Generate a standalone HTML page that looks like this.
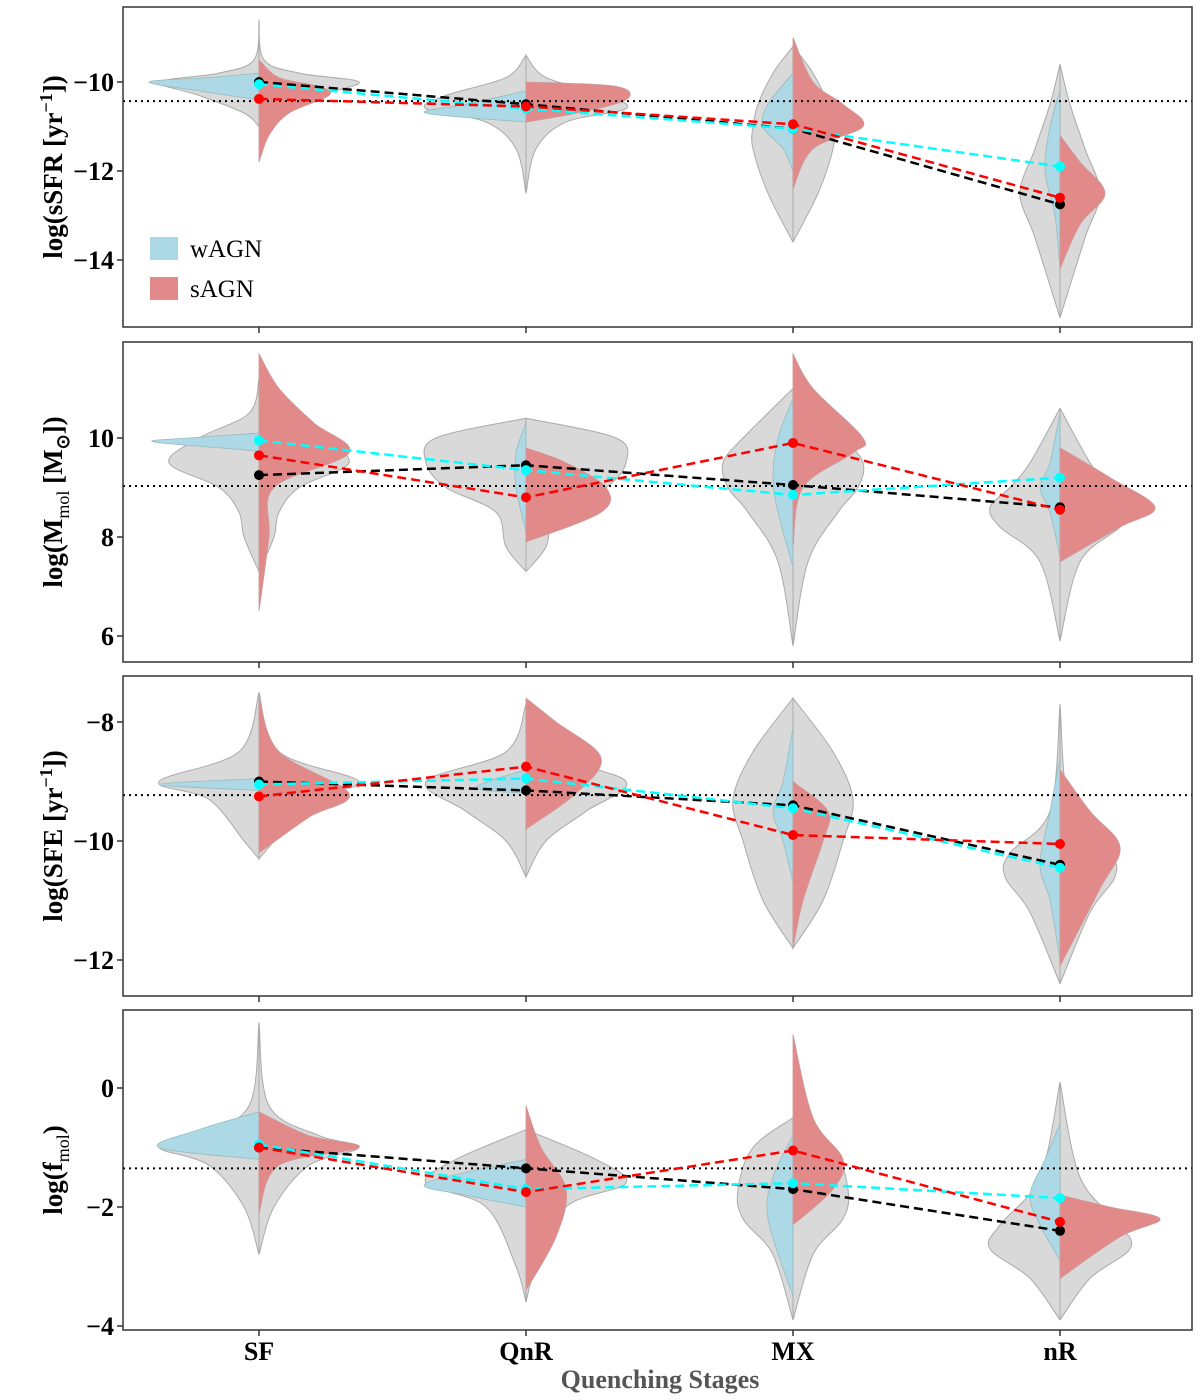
<!DOCTYPE html>
<html><head><meta charset="utf-8">
<style>
html,body{margin:0;padding:0;background:#fff;}
svg{display:block;font-family:"Liberation Serif",serif;}
</style></head>
<body>
<svg id="chart" width="1200" height="1400" viewBox="0 0 1200 1400" xmlns="http://www.w3.org/2000/svg"></svg>
<script>
const categories = ["SF","QnR","MX","nR"];
const panelNames = ["ssfr","mmol","sfe","fmol"];
// reference (dotted) lines
const refLines = [-10.43, 9.03, -9.23, -1.35];
// tick values
const ticks0 = [-10,-12,-14];
const ticks1 = [10,8,6];
const ticks2 = [-8,-10,-12];
const ticks3 = [0,-2,-4];
const tickLabels0 = ["\u221210","\u221212","\u221214"];
const tickLabels1 = ["10","8","6"];
const tickLabels2 = ["\u22128","\u221210","\u221212"];
const tickLabels3 = ["0","\u22122","\u22124"];
// medians per panel: [SF,QnR,MX,nR]
const allMed0 = [-10.0,-10.5,-11.05,-12.75];
const wMed0 = [-10.05,-10.6,-11.05,-11.9];
const sMed0 = [-10.38,-10.55,-10.95,-12.6];
const allMed1 = [9.25,9.45,9.05,8.6];
const wMed1 = [9.95,9.35,8.85,9.2];
const sMed1 = [9.65,8.8,9.9,8.55];
const allMed2 = [-9.0,-9.15,-9.4,-10.4];
const wMed2 = [-9.05,-8.95,-9.45,-10.45];
const sMed2 = [-9.25,-8.75,-9.9,-10.05];
const allMed3 = [-1.0,-1.35,-1.7,-2.4];
const wMed3 = [-0.95,-1.7,-1.6,-1.85];
const sMed3 = [-1.0,-1.75,-1.05,-2.25];
// violin densities: [value, density]
const gray0 = [
 [[-8.6,0],[-9.5,5],[-9.8,40],[-10,100],[-10.3,60],[-10.7,15],[-11,0]],
 [[-9.4,0],[-9.9,20],[-10.3,80],[-10.6,100],[-10.9,40],[-11.5,10],[-12.5,0]],
 [[-9.2,0],[-9.8,20],[-10.5,35],[-11,40],[-11.5,40],[-12.5,25],[-13.6,0]],
 [[-9.6,0],[-10.5,10],[-11.5,25],[-12.5,40],[-13.5,25],[-15.3,0]]];
const blue0 = [
 [[-9.8,0],[-9.9,50],[-10.0,110],[-10.2,60],[-10.4,0]],
 [[-10.2,0],[-10.5,60],[-10.7,100],[-10.9,0]],
 [[-9.8,0],[-10.5,25],[-11,30],[-11.5,10],[-12,0]],
 [[-10.2,0],[-11,10],[-12,15],[-13,5],[-14.2,0]]];
const red0 = [
 [[-9.5,0],[-9.9,20],[-10.1,60],[-10.3,70],[-10.7,30],[-11.2,10],[-11.8,0]],
 [[-10.0,0],[-10.1,90],[-10.4,100],[-10.7,50],[-10.9,0]],
 [[-9.0,0],[-10.0,20],[-10.5,50],[-11,70],[-11.5,20],[-12.4,0]],
 [[-11.2,0],[-11.8,20],[-12.5,45],[-13.2,20],[-14.2,0]]];
const gray1 = [
 [[11.2,0],[10.5,10],[10,60],[9.5,90],[9,40],[8.5,20],[8,15],[7.3,0]],
 [[10.4,0],[10,90],[9.5,100],[9,80],[8.5,30],[7.8,20],[7.3,0]],
 [[11,0],[10,50],[9.5,70],[9,65],[8.5,45],[7.5,15],[5.8,0]],
 [[10.6,0],[9.5,30],[9,50],[8.6,70],[8.2,60],[7.5,20],[5.9,0]]];
const blue1 = [
 [[10.1,0],[10.0,70],[9.92,105],[9.75,10],[9.7,0]],
 [[10.3,0],[9.7,10],[9,10],[8.1,0]],
 [[10.8,0],[10,15],[9.2,20],[8.5,15],[7.4,0]],
 [[10.5,0],[9.5,10],[9,20],[8.5,10],[7.6,0]]];
const red1 = [
 [[11.7,0],[11,20],[10.3,55],[9.7,90],[9,15],[8,10],[6.5,0]],
 [[9.8,0],[9.5,40],[9,80],[8.5,75],[7.9,0]],
 [[11.7,0],[11,20],[10,70],[9.7,60],[9,10],[7.8,0]],
 [[9.8,0],[9.2,50],[8.6,95],[8.2,60],[7.5,0]]];
const gray2 = [
 [[-7.5,0],[-8.5,20],[-9,100],[-9.3,50],[-10,15],[-10.3,0]],
 [[-7.7,0],[-8.5,20],[-9,100],[-9.5,60],[-10,20],[-10.6,0]],
 [[-7.6,0],[-8.5,40],[-9.3,60],[-10,50],[-11,30],[-11.8,0]],
 [[-7.7,0],[-9.5,10],[-10.2,50],[-10.6,55],[-11.2,30],[-12.4,0]]];
const blue2 = [
 [[-8.95,0],[-9.05,100],[-9.15,0]],
 [[-8.8,0],[-9.1,50],[-9.2,0]],
 [[-8.1,0],[-9,10],[-9.5,20],[-10,10],[-10.7,0]],
 [[-8.6,0],[-9.5,10],[-10.4,20],[-11,10],[-12,0]]];
const red2 = [
 [[-7.6,0],[-8.5,20],[-9.2,90],[-9.6,50],[-10.2,0]],
 [[-7.6,0],[-8,30],[-8.6,75],[-9.2,50],[-9.8,0]],
 [[-9,0],[-9.5,35],[-10,30],[-11,10],[-11.8,0]],
 [[-8.8,0],[-9.5,30],[-10.1,60],[-10.8,40],[-12.1,0]]];
const gray3 = [
 [[1.1,0],[-0.3,10],[-0.8,60],[-1,100],[-1.3,50],[-2,15],[-2.8,0]],
 [[-0.7,0],[-1.2,70],[-1.6,100],[-2,40],[-3,10],[-3.6,0]],
 [[-0.5,0],[-1,40],[-1.7,55],[-2.2,50],[-2.8,20],[-3.9,0]],
 [[0.1,0],[-1.5,20],[-2.3,60],[-2.7,70],[-3.2,30],[-3.9,0]]];
const blue3 = [
 [[-0.4,0],[-0.7,60],[-1,100],[-1.2,0]],
 [[-1.2,0],[-1.6,100],[-1.8,60],[-2,0]],
 [[-0.8,0],[-1.5,20],[-2.2,25],[-3.5,0]],
 [[-0.6,0],[-1.2,15],[-1.8,30],[-2.3,20],[-2.9,0]]];
const red3 = [
 [[-0.4,0],[-0.8,50],[-1,100],[-1.3,20],[-2.1,0]],
 [[-0.3,0],[-1,15],[-1.7,40],[-2.5,30],[-3.4,0]],
 [[0.9,0],[-0.5,20],[-1.2,50],[-1.7,40],[-2.3,0]],
 [[-1.8,0],[-2,50],[-2.2,100],[-2.5,60],[-3.2,0]]];

const NS="http://www.w3.org/2000/svg";
const svg=document.getElementById('chart');
function mk(tag,attrs,parent){const e=document.createElementNS(NS,tag);for(const k in attrs)e.setAttribute(k,attrs[k]);(parent||svg).appendChild(e);return e;}

const panels=[
 {top:7,v0:-10,p0:82,ppu:44.5,ticks:ticks0,labels:tickLabels0,ref:refLines[0],all:allMed0,w:wMed0,s:sMed0,gray:gray0,blue:blue0,red:red0},
 {top:342,v0:10,p0:438,ppu:-49.5,ticks:ticks1,labels:tickLabels1,ref:refLines[1],all:allMed1,w:wMed1,s:sMed1,gray:gray1,blue:blue1,red:red1},
 {top:676,v0:-8,p0:722,ppu:59.5,ticks:ticks2,labels:tickLabels2,ref:refLines[2],all:allMed2,w:wMed2,s:sMed2,gray:gray2,blue:blue2,red:red2},
 {top:1010,v0:0,p0:1088,ppu:59.5,ticks:ticks3,labels:tickLabels3,ref:refLines[3],all:allMed3,w:wMed3,s:sMed3,gray:gray3,blue:blue3,red:red3}];
// ppu sign: y = p0 + (v0 - v)*|ppu| ; panel ppu all positive meaning pixels per unit
panels.forEach(p=>p.ppu=Math.abs(p.ppu));
const X0=123,X1=1192,H=320;
function xPos(i){return 259+i*267;}
function widthScale(d){return d;} // density -> px

function smoothPath(pts){
  let d='M'+pts[0][0]+','+pts[0][1];
  for(let i=0;i<pts.length-1;i++){
    const p0=pts[Math.max(0,i-1)],p1=pts[i],p2=pts[i+1],p3=pts[Math.min(pts.length-1,i+2)];
    const c1=[p1[0]+(p2[0]-p0[0])/6,p1[1]+(p2[1]-p0[1])/6];
    const c2=[p2[0]-(p3[0]-p1[0])/6,p2[1]-(p3[1]-p1[1])/6];
    d+=' C'+c1[0].toFixed(1)+','+c1[1].toFixed(1)+' '+c2[0].toFixed(1)+','+c2[1].toFixed(1)+' '+p2[0].toFixed(1)+','+p2[1].toFixed(1);
  }
  return d;
}
function halfPath(cx,dens,side,y){
  const pts=dens.map(([v,w])=>[cx+side*widthScale(w),y(v)]);
  return smoothPath(pts)+' L'+cx+','+y(dens[dens.length-1][0])+' L'+cx+','+y(dens[0][0])+' Z';
}

const yTitles=[
 '<tspan>log(sSFR [yr</tspan><tspan dy="-10" font-size="18">\u22121</tspan><tspan dy="10">])</tspan>',
 '<tspan>log(M</tspan><tspan dy="7" font-size="18" font-weight="normal">mol</tspan><tspan dy="-7"> [M</tspan><tspan dy="7" font-size="18">\u2299</tspan><tspan dy="-7">])</tspan>',
 '<tspan>log(SFE [yr</tspan><tspan dy="-10" font-size="18">\u22121</tspan><tspan dy="10">])</tspan>',
 '<tspan>log(f</tspan><tspan dy="7" font-size="18" font-weight="normal">mol</tspan><tspan dy="-7">)</tspan>'];

panels.forEach((p,pi)=>{
  const g=mk('g',{});
  
  
  const y=v=>p.p0+(p.v0-v)*p.ppu;
  const clipId='clip'+pi;
  const cp=mk('clipPath',{id:clipId},g);mk('rect',{x:X0,y:p.top,width:X1-X0,height:H},cp);
  const plot=mk('g',{'clip-path':'url(#'+clipId+')'},g);
  categories.forEach((c,i)=>{
    const cx=xPos(i);
    const gp=mk('path',{d:halfPath(cx,p.gray[i],-1,y)+' '+halfPath(cx,p.gray[i],1,y),fill:'#d9d9d9',stroke:'#aaa','stroke-width':1},plot);
    
    
    const bp=mk('path',{d:halfPath(cx,p.blue[i],-1,y),fill:'#add8e6',stroke:'#9bb','stroke-width':0.8},plot);
    
    
    const rp=mk('path',{d:halfPath(cx,p.red[i],1,y),fill:'#e28a8a',stroke:'#c99','stroke-width':0.8},plot);
    
    
  });
  const rl=mk('line',{x1:X0,x2:X1,y1:y(p.ref),y2:y(p.ref),stroke:'#000','stroke-width':2,'stroke-dasharray':'2,4'},plot);
  
  
  [['all',p.all,'#000'],['wagn',p.w,'#00ffff'],['sagn',p.s,'#ff0000']].forEach(([nm,arr,col])=>{
    const pl=mk('polyline',{points:arr.map((v,i)=>xPos(i)+','+y(v)).join(' '),fill:'none',stroke:col,'stroke-width':2.5,'stroke-dasharray':'9,5'},plot);
    
    
    arr.forEach((v,i)=>{
      const c=mk('circle',{cx:xPos(i),cy:y(v),r:5,fill:col},plot);
      
      
    });
  });
  const fr=mk('rect',{x:X0,y:p.top,width:X1-X0,height:H,fill:'none',stroke:'#333','stroke-width':1.5},g);
  
  
  p.ticks.forEach((t,ti)=>{
    mk('line',{x1:X0-6,x2:X0,y1:y(t),y2:y(t),stroke:'#333','stroke-width':1.5},g);
    const tx=mk('text',{x:X0-9,y:y(t)+9,'text-anchor':'end','font-size':26,'font-weight':'bold'},g);
    tx.textContent=p.labels[ti];
    
    
  });
  categories.forEach((c,i)=>mk('line',{x1:xPos(i),x2:xPos(i),y1:p.top+H,y2:p.top+H+6,stroke:'#333','stroke-width':1.5},g));
  const yt=mk('text',{transform:'translate(62,'+(p.top+H/2)+') rotate(-90)','text-anchor':'middle','font-size':27,'font-weight':'bold'},g);
  yt.innerHTML=yTitles[pi];
  
  
});
// legend
const lg=mk('g',{});


mk('rect',{x:150,y:237,width:28,height:23,fill:'#add8e6'},lg);
mk('rect',{x:150,y:277,width:28,height:23,fill:'#e28a8a'},lg);
const l1=mk('text',{x:190,y:257,'font-size':25},lg);l1.textContent='wAGN';


const l2=mk('text',{x:190,y:297,'font-size':25},lg);l2.textContent='sAGN';


// x labels
categories.forEach((c,i)=>{
  const t=mk('text',{x:xPos(i),y:1360,'text-anchor':'middle','font-size':26,'font-weight':'bold'});
  t.textContent=c;
  
  
});
const xt=mk('text',{x:660,y:1388,'text-anchor':'middle','font-size':26,'font-weight':'bold',fill:'#555'});
xt.textContent='Quenching Stages';


</script>
</body></html>
